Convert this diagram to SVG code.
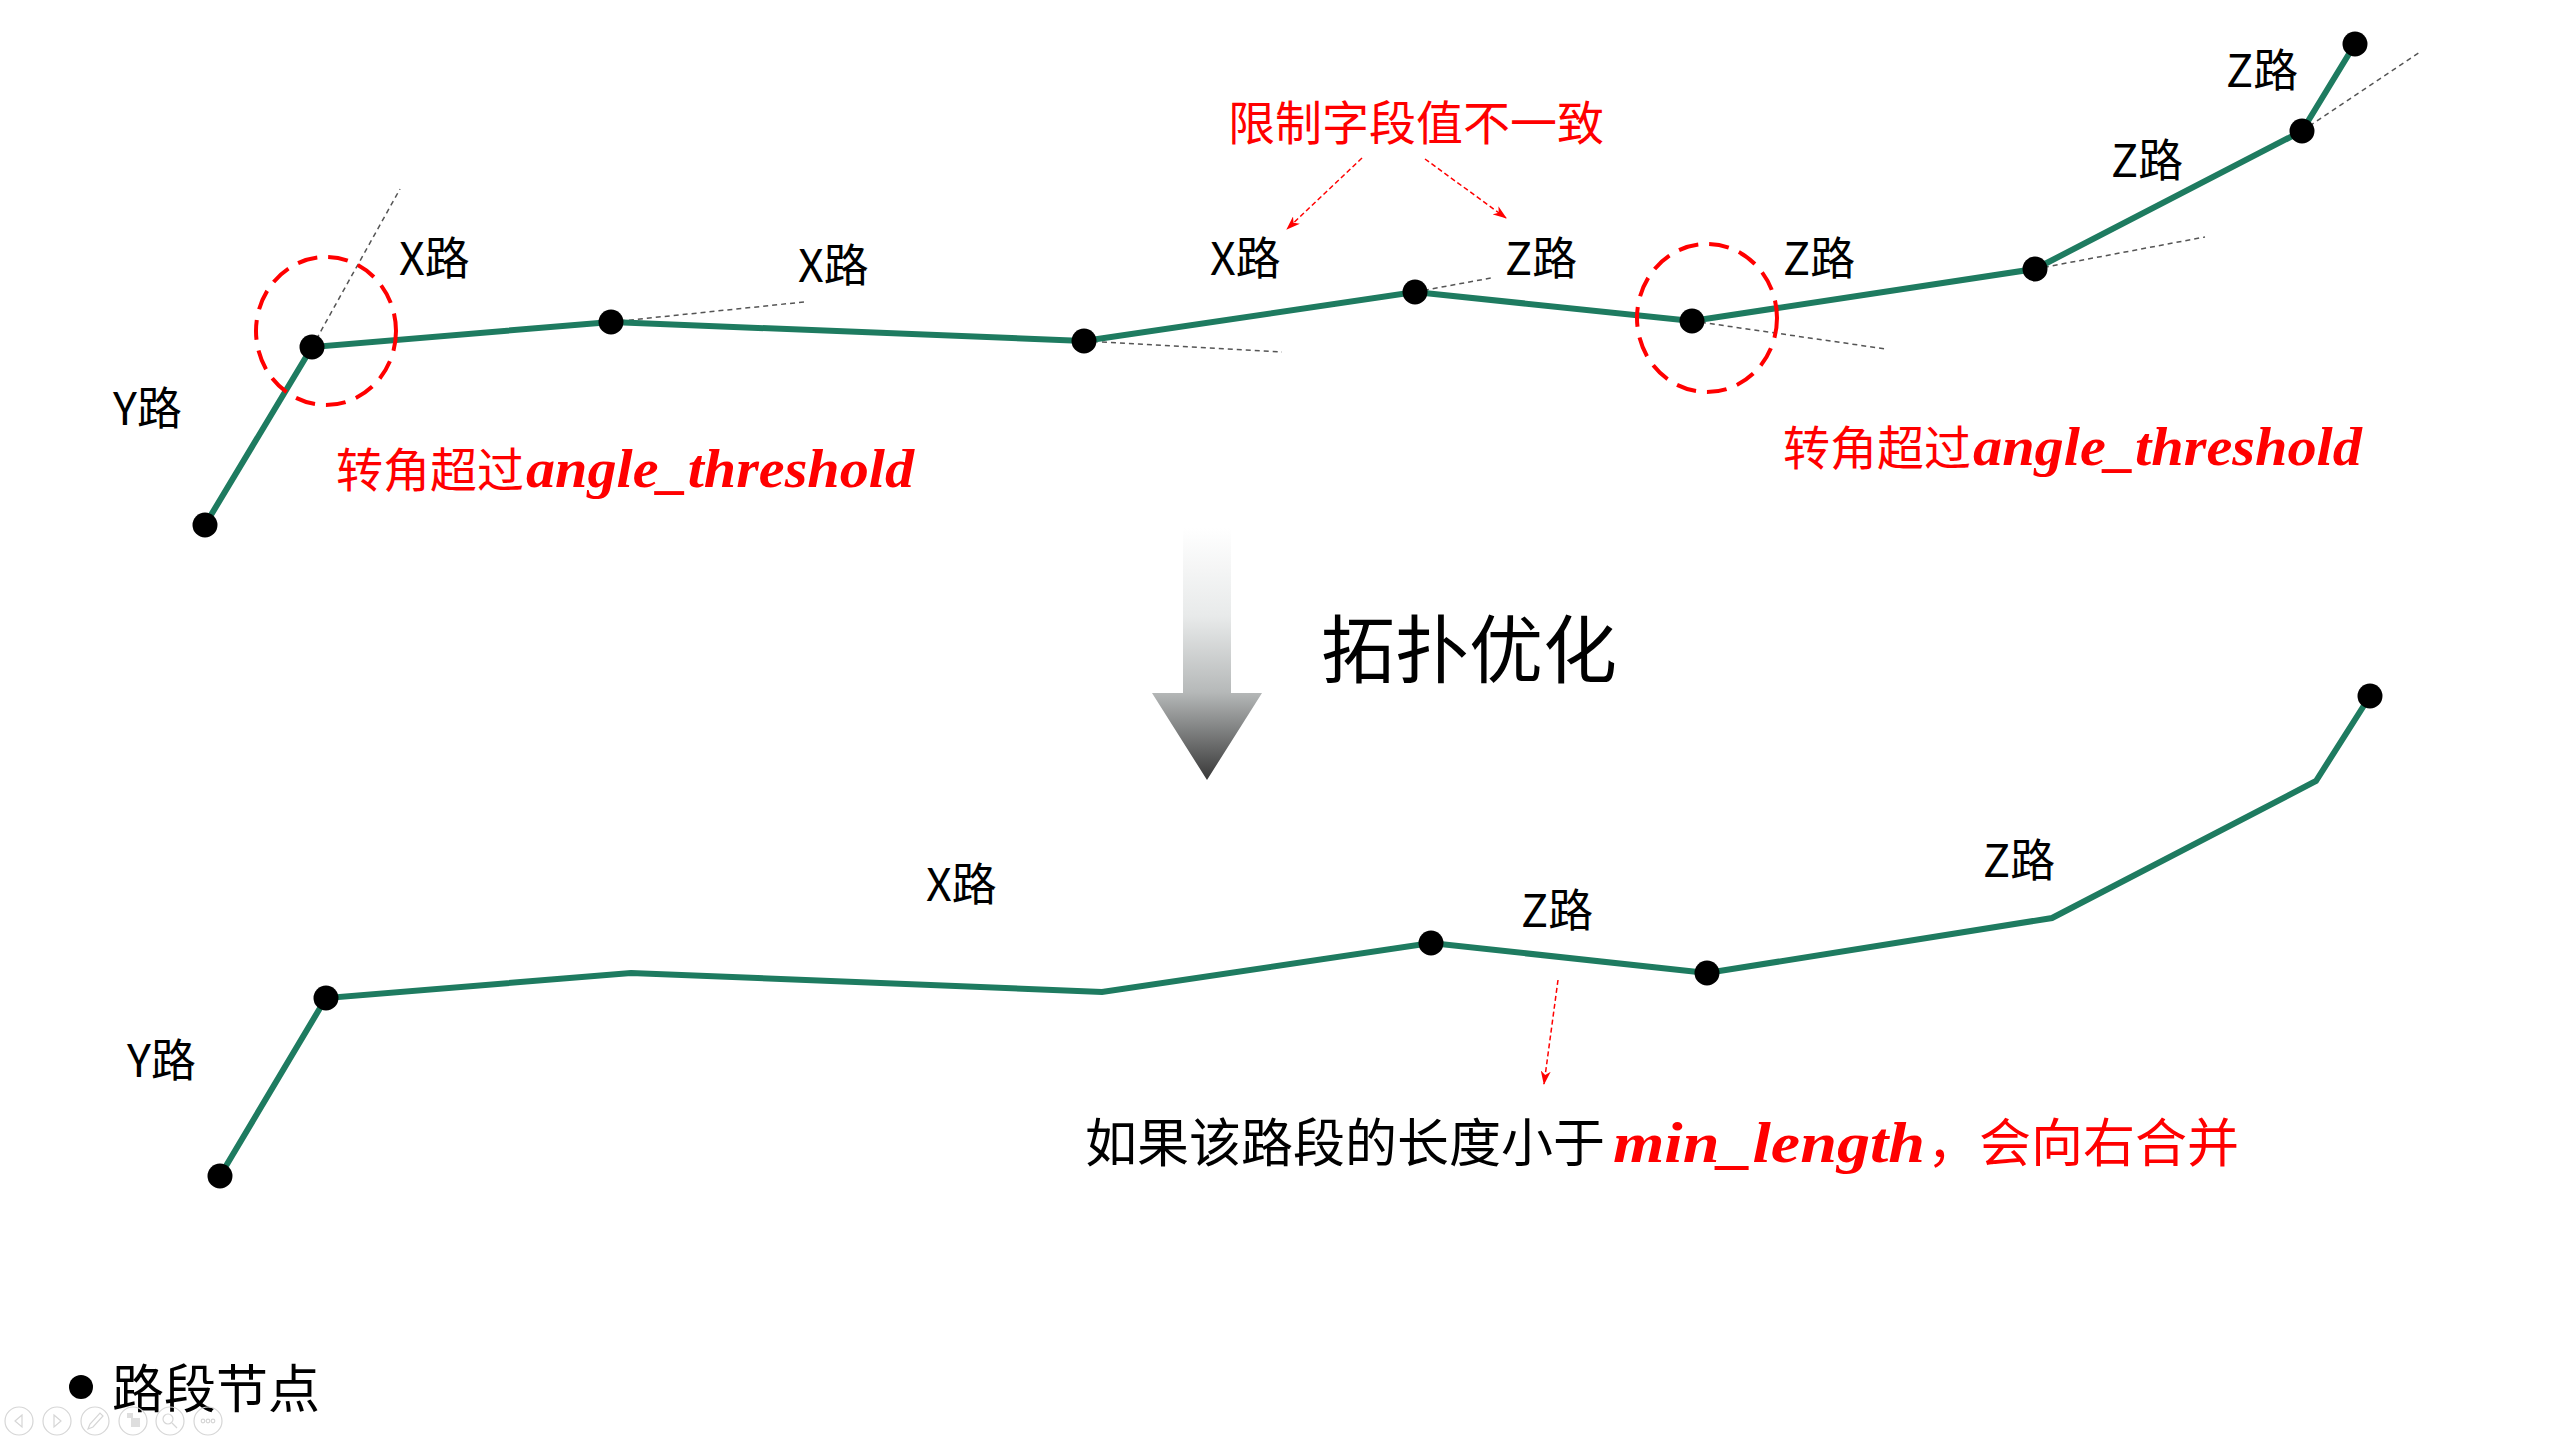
<svg xmlns="http://www.w3.org/2000/svg" width="2559" height="1439" viewBox="0 0 2559 1439">
<defs>
<style>
.road{fill:none;stroke:#1e7b60;stroke-width:6;stroke-linejoin:miter}
.dot{fill:#000}
.ext{fill:none;stroke:#555;stroke-width:1.5;stroke-dasharray:5 4}
.ring{fill:none;stroke:#ff0000;stroke-width:4;stroke-dasharray:20 11}
.rarrow{fill:none;stroke:#ff0000;stroke-width:1.5;stroke-dasharray:5 3}
.lbl{font-family:"Noto Sans CJK SC","Noto Sans",sans-serif;font-size:45px;fill:#000}
.red{font-family:"Noto Sans CJK SC","Noto Sans",sans-serif;font-size:47px;fill:#ff0000}
.math{font-family:"Liberation Serif","DejaVu Serif",serif;font-style:italic;font-weight:bold;fill:#ff0000}
.big{font-family:"Noto Sans CJK SC","Noto Sans",sans-serif;font-size:74px;fill:#000}
.body{font-family:"Noto Sans CJK SC","Noto Sans",sans-serif;font-size:52px;fill:#000}
.ico{fill:none;stroke:#d6d6d6;stroke-width:1.2}
</style>
<linearGradient id="arrowGrad" gradientUnits="userSpaceOnUse" x1="0" y1="528" x2="0" y2="780">
<stop offset="0" stop-color="#ffffff"/>
<stop offset="0.35" stop-color="#e8eaea"/>
<stop offset="0.65" stop-color="#b6b9b9"/>
<stop offset="1" stop-color="#383838"/>
</linearGradient>
<marker id="redHead" viewBox="0 0 14 10" refX="13" refY="5" markerWidth="14" markerHeight="10" markerUnits="userSpaceOnUse" orient="auto">
<path d="M0,0 L14,5 L0,10 L4,5 z" fill="#ff0000"/>
</marker>
</defs>
<rect width="2559" height="1439" fill="#ffffff"/>

<!-- top: before optimisation -->
<g id="top-extensions">
<line class="ext" x1="312" y1="347" x2="400" y2="189"/>
<line class="ext" x1="611" y1="322" x2="804" y2="302"/>
<line class="ext" x1="1084" y1="341" x2="1282" y2="352"/>
<line class="ext" x1="1415" y1="292" x2="1491" y2="278"/>
<line class="ext" x1="1692" y1="321" x2="1886" y2="349"/>
<line class="ext" x1="2035" y1="269" x2="2205" y2="237"/>
<line class="ext" x1="2302" y1="131" x2="2420" y2="52"/>
</g>
<g id="top-road">
<polyline class="road" points="205,525 312,347 611,322 1084,341 1415,292 1692,321 2035,269 2302,131 2355,44"/>
</g>
<g id="top-node-1"><circle class="dot" cx="205" cy="525" r="12.5"/></g>
<g id="top-node-2"><circle class="dot" cx="312" cy="347" r="12.5"/></g>
<g id="top-node-3"><circle class="dot" cx="611" cy="322" r="12.5"/></g>
<g id="top-node-4"><circle class="dot" cx="1084" cy="341" r="12.5"/></g>
<g id="top-node-5"><circle class="dot" cx="1415" cy="292" r="12.5"/></g>
<g id="top-node-6"><circle class="dot" cx="1692" cy="321" r="12.5"/></g>
<g id="top-node-7"><circle class="dot" cx="2035" cy="269" r="12.5"/></g>
<g id="top-node-8"><circle class="dot" cx="2302" cy="131" r="12.5"/></g>
<g id="top-node-9"><circle class="dot" cx="2355" cy="44" r="12.5"/></g>

<g id="top-rings">
<ellipse class="ring" cx="326" cy="331" rx="70" ry="74"/>
<ellipse class="ring" cx="1707" cy="318" rx="70" ry="74"/>
</g>

<g id="top-labels">
<text class="lbl" x="113" y="425">Y路</text>
<text class="lbl" x="399" y="275">X路</text>
<text class="lbl" x="798" y="282">X路</text>
<text class="lbl" x="1210" y="275">X路</text>
<text class="lbl" x="1505" y="275">Z路</text>
<text class="lbl" x="1783" y="275">Z路</text>
<text class="lbl" x="2111" y="177">Z路</text>
<text class="lbl" x="2226" y="87">Z路</text>
</g>

<g id="note-field">
<text class="red" x="1228" y="140">限制字段值不一致</text>
</g>
<g id="note-angle-left">
<text class="red" x="336" y="487">转角超过<tspan class="math" x="526" font-size="54" textLength="388" lengthAdjust="spacingAndGlyphs">angle_threshold</tspan></text>
</g>
<g id="note-angle-right">
<text class="red" x="1783" y="465">转角超过<tspan class="math" x="1973" font-size="54" textLength="389" lengthAdjust="spacingAndGlyphs">angle_threshold</tspan></text>
</g>

<!-- transition -->
<g id="transform-arrow">
<path d="M1183,528 L1231,528 L1231,693 L1262,693 L1207,780 L1152,693 L1183,693 Z" fill="url(#arrowGrad)"/>
<text class="big" x="1321" y="677">拓扑优化</text>
</g>

<!-- bottom: after optimisation -->
<g id="bottom-road">
<polyline class="road" points="220,1176 326,998 631,973 1102,992 1431,943 1707,973 2052,918 2316,781 2370,696"/>
</g>
<g id="bottom-node-1"><circle class="dot" cx="220" cy="1176" r="12.5"/></g>
<g id="bottom-node-2"><circle class="dot" cx="326" cy="998" r="12.5"/></g>
<g id="bottom-node-3"><circle class="dot" cx="1431" cy="943" r="12.5"/></g>
<g id="bottom-node-4"><circle class="dot" cx="1707" cy="973" r="12.5"/></g>
<g id="bottom-node-5"><circle class="dot" cx="2370" cy="696" r="12.5"/></g>

<g id="bottom-labels">
<text class="lbl" x="127" y="1077">Y路</text>
<text class="lbl" x="926" y="901">X路</text>
<text class="lbl" x="1521" y="927">Z路</text>
<text class="lbl" x="1983" y="877">Z路</text>
</g>

<g id="note-length">
<text class="body" x="1085" y="1162">如果该路段的长度小于<tspan class="math" x="1613" font-size="56" textLength="312" lengthAdjust="spacingAndGlyphs">min_length</tspan><tspan x="1927" fill="#ff0000">，会向右合并</tspan></text>
</g>

<g id="connectors">
<line class="rarrow" x1="1362" y1="158" x2="1287" y2="229" marker-end="url(#redHead)"/>
<line class="rarrow" x1="1425" y1="159" x2="1506" y2="218" marker-end="url(#redHead)"/>
<line class="rarrow" x1="1558" y1="980" x2="1544" y2="1084" marker-end="url(#redHead)"/>
</g>

<!-- legend -->
<g id="legend">
<circle class="dot" cx="81" cy="1387" r="12"/>
<text class="body" x="112" y="1408" font-size="53">路段节点</text>
</g>

<!-- faint slideshow toolbar -->
<g id="toolbar">
<circle class="ico" cx="19" cy="1421" r="14"/>
<path class="ico" d="M22,1415 L15,1421 L22,1427 Z"/>
<circle class="ico" cx="57" cy="1421" r="14"/>
<path class="ico" d="M54,1415 L61,1421 L54,1427 Z"/>
<circle class="ico" cx="95" cy="1421" r="14"/>
<path class="ico" d="M88,1429 L90,1424 L100,1413 L103,1416 L93,1427 Z"/>
<circle class="ico" cx="133" cy="1421" r="14"/>
<rect x="127" y="1413" width="6" height="5" fill="#dedede"/>
<rect x="131" y="1418" width="9" height="9" fill="#dedede"/>
<circle class="ico" cx="170" cy="1421" r="14"/>
<circle class="ico" cx="168" cy="1419" r="5"/>
<line class="ico" x1="172" y1="1423" x2="177" y2="1428"/>
<circle class="ico" cx="208" cy="1421" r="14"/>
<circle class="ico" cx="203" cy="1421" r="1.8"/>
<circle class="ico" cx="208" cy="1421" r="1.8"/>
<circle class="ico" cx="213" cy="1421" r="1.8"/>
</g>
</svg>
